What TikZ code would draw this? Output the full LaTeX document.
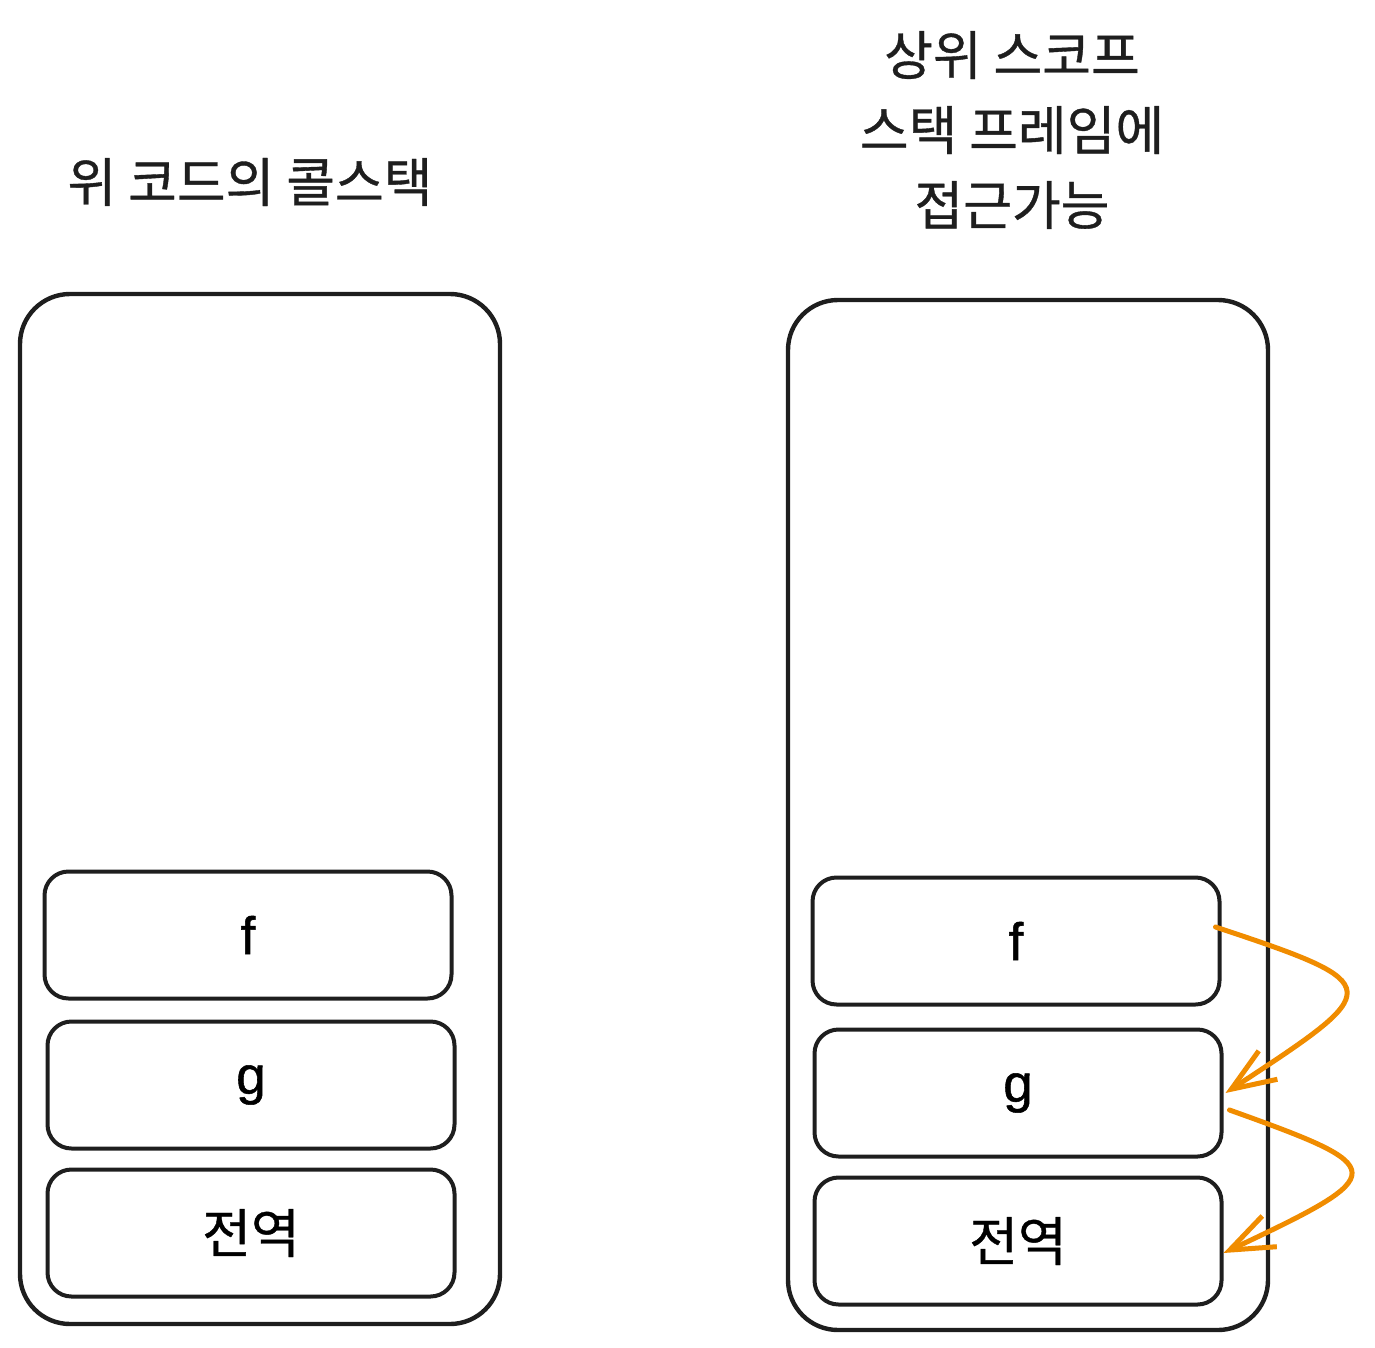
\documentclass[tikz,border=0pt]{standalone}
\usepackage{fontspec}
\setmainfont{Noto Sans CJK KR}[FakeBold=0.7]
\newfontfamily\letterfont{Liberation Sans}[FakeBold=1]
\usetikzlibrary{positioning, arrows.meta}
\definecolor{stackline}{RGB}{30, 30, 30}
\definecolor{scopeorange}{RGB}{240, 140, 0}
\tikzset{
    stackbox/.style={draw=stackline, line width=4.4pt, rounded corners=50pt, minimum width=480pt, minimum height=1030pt},
    framebox/.style={draw=stackline, line width=4pt, rounded corners=24pt, minimum width=407pt, minimum height=127pt, font=\fontsize{53}{60}\selectfont},
    titletext/.style={align=center, font=\fontsize{53}{75}\selectfont, text=stackline},
    scopearrow/.style={draw=scopeorange, line width=5pt, line cap=round, -{Straight Barb[length=44pt, width=34pt, line width=5pt]}}
}
\begin{document}
\begin{tikzpicture}[x=1pt, y=-1pt]
    \useasboundingbox (0,0) rectangle (1375,1348);

    % Call stack of the code above
    \node[titletext] (lefttitle) at (250,182) {위 코드의 콜스택};
    \node[stackbox] (leftstack) at (260,809) {};
    \node[framebox] (lf) at (248,935) {\letterfont f};
    \node[framebox] (lg) at (251,1085) {\letterfont g};
    \node[framebox] (lglobal) at (251,1233) {전역};

    % Access to the outer scope's stack frame
    \node[titletext] (righttitle) at (1012,130) {상위 스코프\\스택 프레임에\\접근가능};
    \node[stackbox] (rightstack) at (1028,815) {};
    \node[framebox] (rf) at (1016,941) {\letterfont f};
    \node[framebox] (rg) at (1018,1093) {\letterfont g};
    \node[framebox] (rglobal) at (1018,1241) {전역};

    % Scope chain arrows
    \draw[scopearrow] ([xshift=-6pt, yshift=14pt]rf.east) .. controls +(175,58) and +(160,-105) .. ([xshift=2pt]rg.east);
    \draw[scopearrow] ([xshift=6pt, yshift=-17pt]rg.east) .. controls +(162,58) and +(170,-80) .. ([yshift=-12pt]rglobal.east);
\end{tikzpicture}
\end{document}
